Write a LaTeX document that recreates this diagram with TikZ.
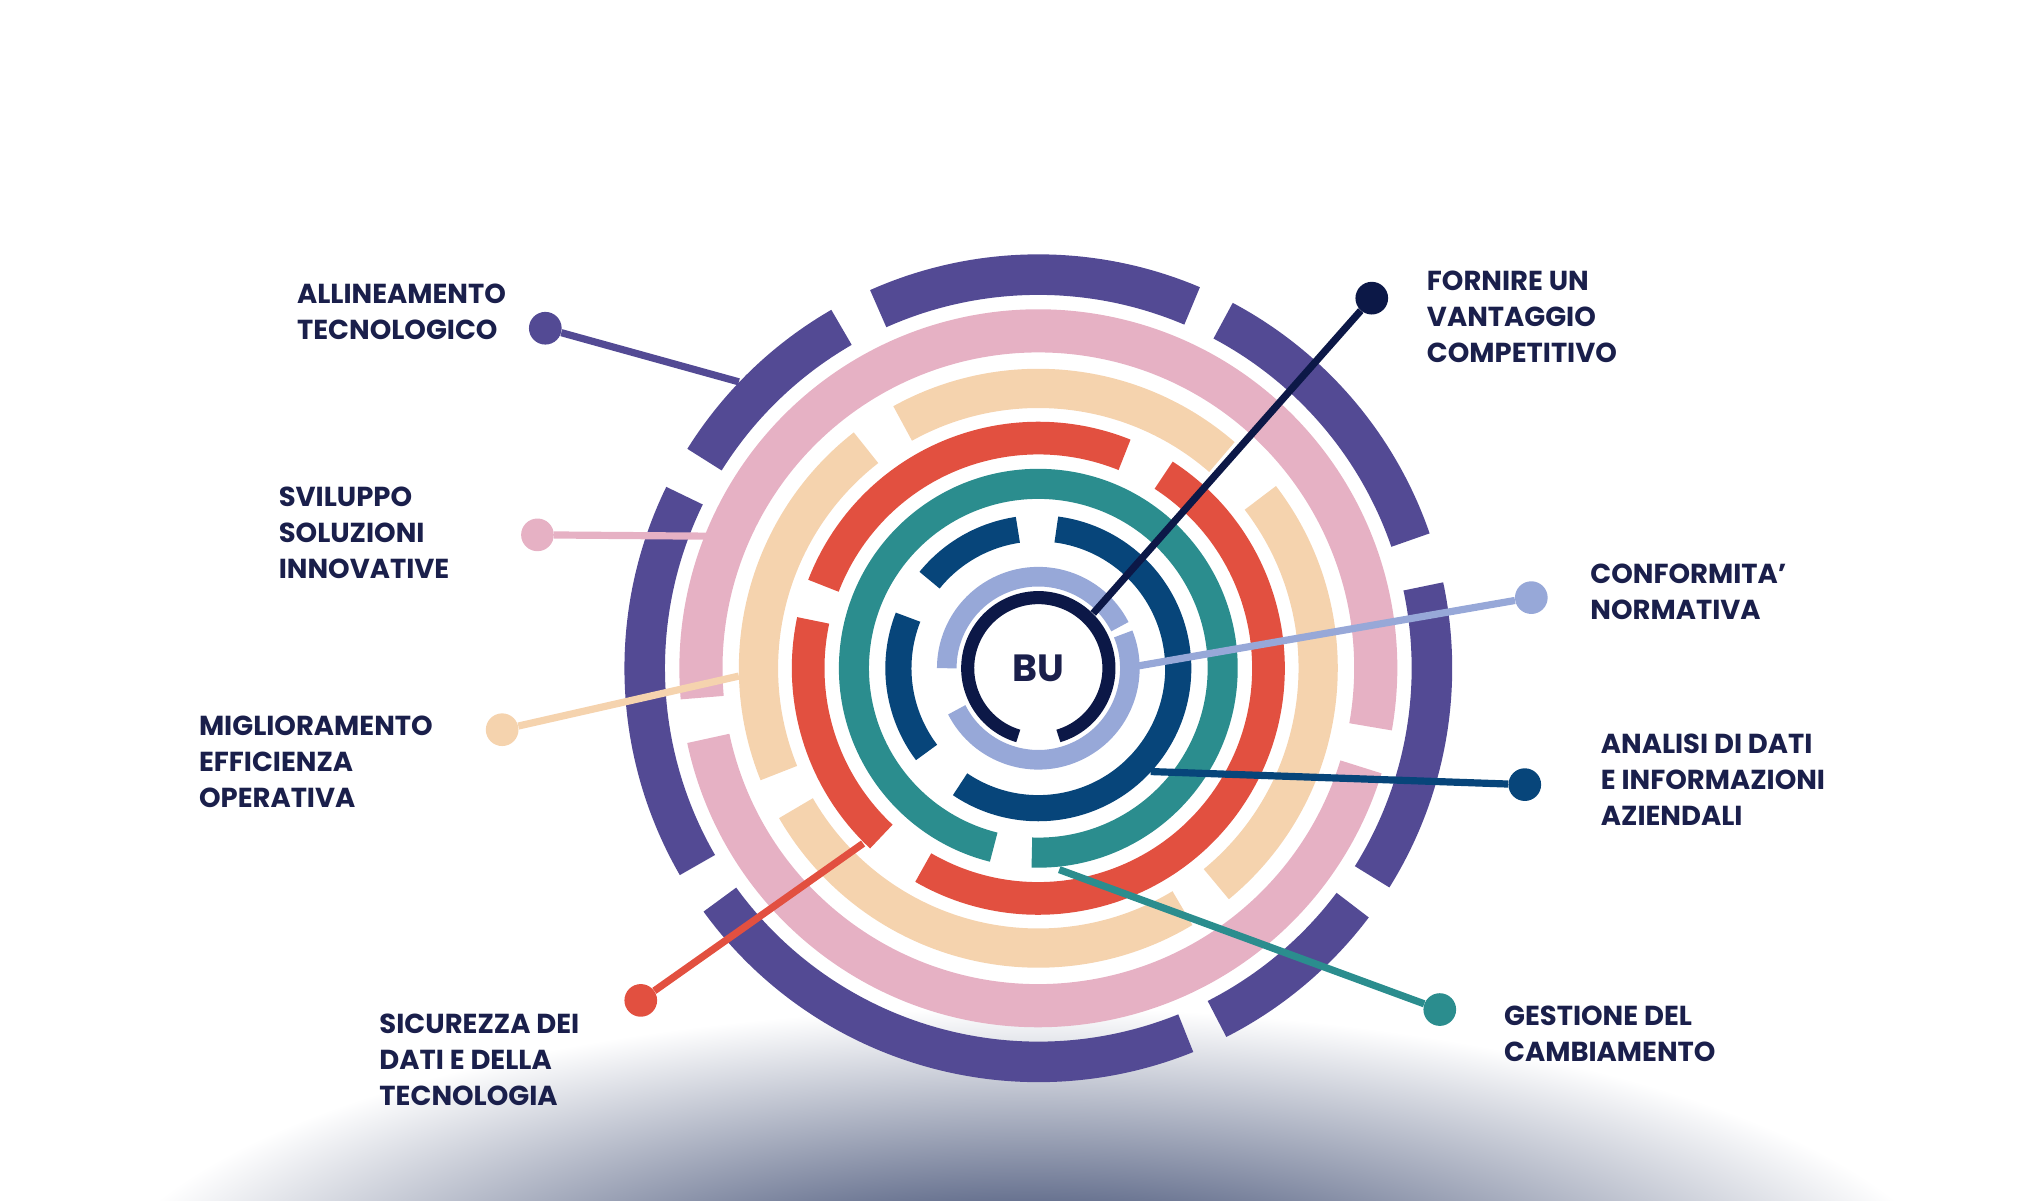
\documentclass[tikz,border=0pt]{standalone}
\usepackage{fontspec}
\setmainfont{Poppins}
\usetikzlibrary{calc}
\begin{document}
\begin{tikzpicture}[x=1pt,y=1pt,
  lbl/.style={anchor=north west,inner sep=0pt,align=left,font=\fontsize{21}{27.5}\selectfont\bfseries,text=txt},
  dot/.style={circle,inner sep=0pt,minimum size=25pt},
  con/.style={line width=5.5pt}]
\definecolor{pur}{HTML}{534A94}
\definecolor{pink}{HTML}{E6B1C4}
\definecolor{peach}{HTML}{F5D3AE}
\definecolor{red}{HTML}{E25040}
\definecolor{teal}{HTML}{2B8D8E}
\definecolor{dblue}{HTML}{07457A}
\definecolor{lblue}{HTML}{97A8D8}
\definecolor{navy}{HTML}{0C1847}
\definecolor{txt}{HTML}{1A1F4B}
\useasboundingbox (0,0) rectangle (1560,-918);
\begin{scope}
\clip (0,0) rectangle (1560,-918);
\shade[inner color=navy!90!dblue, outer color=white] (785,-1010) ellipse [x radius=720pt, y radius=240pt];
\end{scope}
\coordinate (C) at (794,-511);
\newcommand\seg[5]{\draw[#1,line width=#3pt] ($(C)+(#4:#2pt)$) arc[start angle=#4,end angle=#5,radius=#2pt];}
% purple
\seg{pur}{301}{31}{67}{114}
\seg{pur}{301}{31}{120}{148}
\seg{pur}{301}{31}{154}{210}
\seg{pur}{301}{31}{216}{292}
\seg{pur}{301}{31}{297}{323}
\seg{pur}{301}{31}{328}{372}
\seg{pur}{301}{31}{19}{62}
% pink
\seg{pink}{258}{33}{-10}{185}
\seg{pink}{258}{33}{192}{343}
% peach
\seg{peach}{214}{30}{49}{119}
\seg{peach}{214}{30}{128}{202}
\seg{peach}{214}{30}{210}{301}
\seg{peach}{214}{30}{-50.5}{37.5}
% red
\seg{red}{176}{25}{68}{159}
\seg{red}{176}{25}{168}{227}
\seg{red}{176}{25}{240}{417}
% teal
\seg{teal}{141}{23}{268}{616}
% dark blue
\seg{dblue}{107}{20}{98.4}{141}
\seg{dblue}{107}{20}{158.6}{217}
\seg{dblue}{107}{20}{236}{442.6}
% light blue
\seg{lblue}{70}{15}{27}{180}
\seg{lblue}{70}{15}{-153}{22}
% navy
\seg{navy}{54}{10}{-73.5}{253.5}
\node[text=txt,font=\fontsize{29}{29}\selectfont\bfseries] (bu) at (C) {BU};
% connectors
\node[dot,fill=pur] (d1) at (417,-251) {};
\coordinate (e1) at (565,-292);
\draw[con,pur] (d1) -- (e1);
\node[dot,fill=pink] (d2) at (411,-409) {};
\coordinate (e2) at (540,-410);
\draw[con,pink] (d2) -- (e2);
\node[dot,fill=peach] (d3) at (384,-558) {};
\coordinate (e3) at (565,-517);
\draw[con,peach] (d3) -- (e3);
\node[dot,fill=red] (d4) at (490,-765) {};
\coordinate (e4) at (660,-645);
\draw[con,red] (d4) -- (e4);
\node[dot,fill=navy] (d5) at (1049,-228) {};
\coordinate (e5) at (836,-469);
\draw[con,navy] (d5) -- (e5);
\node[dot,fill=lblue] (d6) at (1171,-457) {};
\coordinate (e6) at (866,-510);
\draw[con,lblue] (d6) -- (e6);
\node[dot,fill=dblue] (d7) at (1166,-600) {};
\coordinate (e7) at (880,-590);
\draw[con,dblue] (d7) -- (e7);
\node[dot,fill=teal] (d8) at (1101,-772) {};
\coordinate (e8) at (810,-665);
\draw[con,teal] (d8) -- (e8);
% labels
\node[lbl] (t1) at (227,-217) {ALLINEAMENTO\\TECNOLOGICO};
\node[lbl] (t2) at (213,-372) {SVILUPPO\\SOLUZIONI\\INNOVATIVE};
\node[lbl] (t3) at (152,-547) {MIGLIORAMENTO\\EFFICIENZA\\OPERATIVA};
\node[lbl] (t4) at (290,-775) {SICUREZZA DEI\\DATI E DELLA\\TECNOLOGIA};
\node[lbl] (t5) at (1091,-207) {FORNIRE UN\\VANTAGGIO\\COMPETITIVO};
\node[lbl] (t6) at (1216,-431) {CONFORMITA'\\NORMATIVA};
\node[lbl] (t7) at (1224,-561) {ANALISI DI DATI\\E INFORMAZIONI\\AZIENDALI};
\node[lbl] (t8) at (1150,-769) {GESTIONE DEL\\CAMBIAMENTO};
\end{tikzpicture}
\end{document}
